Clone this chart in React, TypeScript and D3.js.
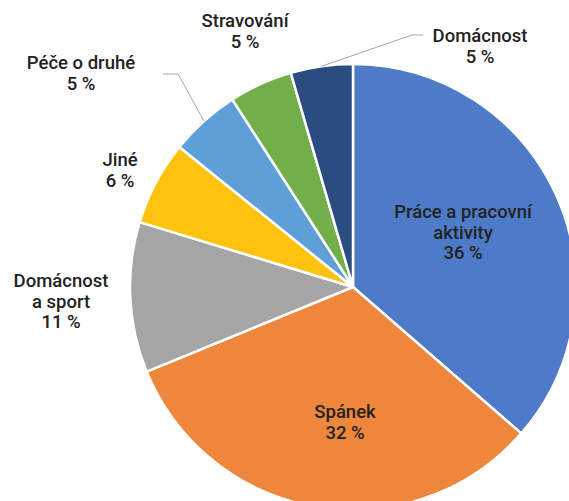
import React from "react";
import * as d3 from "d3";

const categories = [
  "Práce a pracovní aktivity",
  "Spánek",
  "Domácnost a sport",
  "Jiné",
  "Péče o druhé",
  "Stravování",
  "Domácnost",
];
const values = [36.4, 32.4, 10.9, 6.1, 5.1, 4.6, 4.5];
const colors = ["#4E7BC8", "#EE873C", "#A5A5A5", "#FFC20E", "#5E9FD8", "#72AE4A", "#2B4C80"];

// label text lines (category wrapped) and layout
const labelLines = [
  ["Práce a pracovní", "aktivity"],
  ["Spánek"],
  ["Domácnost", "a sport"],
  ["Jiné"],
  ["Péče o druhé"],
  ["Stravování"],
  ["Domácnost"],
];
// label anchor (x center, first baseline) in px; leader elbow if any
const labelLayout = [
  { x: 463, y: 218, leader: null },
  { x: 345, y: 418, leader: null },
  { x: 61, y: 287, leader: null },
  { x: 120, y: 166, leader: null },
  { x: 81, y: 69, leader: { ex: 178, ey: 74, tx: 163 } },
  { x: 245, y: 27, leader: null },
  { x: 480, y: 42, leader: { ex: 412, ey: 35, tx: 423 } },
];

const W = 569;
const H = 501;
const cx = 353;
const cy = 287;
const R = 223;
const LH = 20.5;

export default function App() {
  const pie = d3.pie<number>().sort(null).value((d) => d)(values);
  const arc = d3.arc<d3.PieArcDatum<number>>().innerRadius(0).outerRadius(R);
  const total = d3.sum(values);

  return (
    <svg
      width={W}
      height={H}
      style={{ position: "absolute", left: 0, top: 0, background: "#fff" }}
      fontFamily="Roboto, 'Noto Sans', sans-serif"
    >
      <g transform={`translate(${cx},${cy})`}>
        {pie.map((p, i) => (
          <path key={i} d={arc(p) || ""} fill={colors[i]} stroke="#fff" strokeWidth={2.5} strokeLinejoin="round" />
        ))}
      </g>
      {pie.map((p, i) => {
        const L = labelLayout[i].leader;
        if (!L) return null;
        const mid = (p.startAngle + p.endAngle) / 2;
        const sx = cx + R * Math.sin(mid);
        const sy = cy - R * Math.cos(mid);
        return (
          <polyline
            key={"l" + i}
            points={`${sx},${sy} ${L.ex},${L.ey} ${L.tx},${L.ey}`}
            fill="none"
            stroke="#A6A6A6"
            strokeWidth={1}
          />
        );
      })}
      {pie.map((p, i) => {
        const lay = labelLayout[i];
        const lines = [...labelLines[i], `${Math.round((values[i] / total) * 100)} %`];
        return (
          <text key={"t" + i} textAnchor="middle" fontSize={18.5} fontWeight={500} fill="#222">
            {lines.map((s, j) => (
              <tspan key={j} x={lay.x} y={lay.y + j * LH}>
                {s}
              </tspan>
            ))}
          </text>
        );
      })}
    </svg>
  );
}
